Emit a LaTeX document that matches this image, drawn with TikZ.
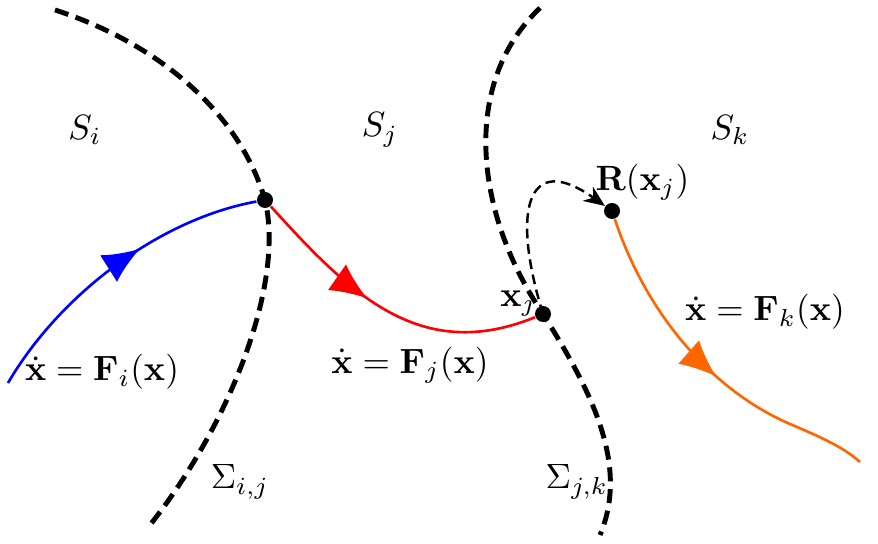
\documentclass[tikz,border=0pt]{standalone}
\usepackage{amsmath}
\usepackage{amssymb}
\usepackage{xcolor}
\usepackage{tikz}
\usetikzlibrary{arrows.meta, positioning, decorations.markings}

\definecolor{traj}{RGB}{255,102,0}

\begin{document}
\begin{tikzpicture}[node distance=0.05cm and 0.05cm]
  \tikzset{
    surf/.style={line width=1.4pt, dash pattern=on 4pt off 2.2pt},
    flow/.style={line width=0.75pt, postaction={decorate},
                 decoration={markings, mark=at position #1 with
                 {\arrow{Latex[length=10.5pt,width=9pt]}}}},
    jump/.style={line width=0.7pt, dash pattern=on 2.8pt off 1.6pt,
                 -{Stealth[length=6pt,width=5pt]}},
    pnt/.style={circle, fill=black, inner sep=0pt, minimum size=0.16cm},
    lbl/.style={font=\normalsize}
  }
  \useasboundingbox (0,0) rectangle (8.78,5.44);
  % Points on the switching surfaces
  \node[pnt] (pij) at (2.65,3.44) {};
  \node[pnt] (xj)  at (5.43,2.30) {};
  \node[pnt] (rx)  at (6.12,3.33) {};
  \coordinate (bin)  at (0.08,1.61);
  \coordinate (kout) at (8.60,0.82);
  % Switching surfaces
  \draw[surf] (0.55,5.34) .. controls (1.6,5.0) and (2.4,4.3) .. (pij.center)
              .. controls (2.85,2.6) and (2.3,1.2) .. (1.50,0.19);
  \draw[surf] (5.40,5.36) .. controls (4.6,4.6) and (4.75,3.3) .. (xj.center)
              .. controls (5.9,1.55) and (6.3,0.8) .. (6.00,0.09);
  % Trajectories
  \draw[flow=0.6, blue] (bin) .. controls (0.6,2.5) and (1.6,3.25) .. (pij);
  \draw[flow=0.43, red] (pij) .. controls (3.5,2.5) and (4.2,1.8) .. (xj);
  \draw[flow=0.53, traj] (rx) .. controls (6.5,2.2) and (7.2,1.5) .. (7.9,1.2)
              .. controls (8.3,1.03) and (8.45,0.95) .. (kout);
  % Reset map
  \draw[jump] (xj.center) .. controls (5.12,3.3) and (5.25,3.95) .. (rx);
  % Region and surface labels
  \node[lbl] (si) at (0.85,4.14) {$S_i$};
  \node[lbl] (sj) at (3.80,4.14) {$S_j$};
  \node[lbl] (sk) at (7.30,4.14) {$S_k$};
  \node[lbl] (gij) at (2.40,0.62) {$\Sigma_{i,j}$};
  \node[lbl] (gjk) at (5.77,0.62) {$\Sigma_{j,k}$};
  % Point labels
  \node[lbl, above left=-0.21cm and -0.12cm of xj] (lxj) {$\mathbf{x}_j$};
  \node[lbl, above right=-0.08cm and -0.35cm of rx] (lrx) {$\mathbf{R}(\mathbf{x}_j)$};
  % Vector fields
  \node[lbl] (fi) at (1.02,1.72) {$\dot{\mathbf{x}} = \mathbf{F}_i(\mathbf{x})$};
  \node[lbl] (fj) at (4.10,1.79) {$\dot{\mathbf{x}} = \mathbf{F}_j(\mathbf{x})$};
  \node[lbl] (fk) at (7.65,2.32) {$\dot{\mathbf{x}} = \mathbf{F}_k(\mathbf{x})$};
\end{tikzpicture}
\end{document}
